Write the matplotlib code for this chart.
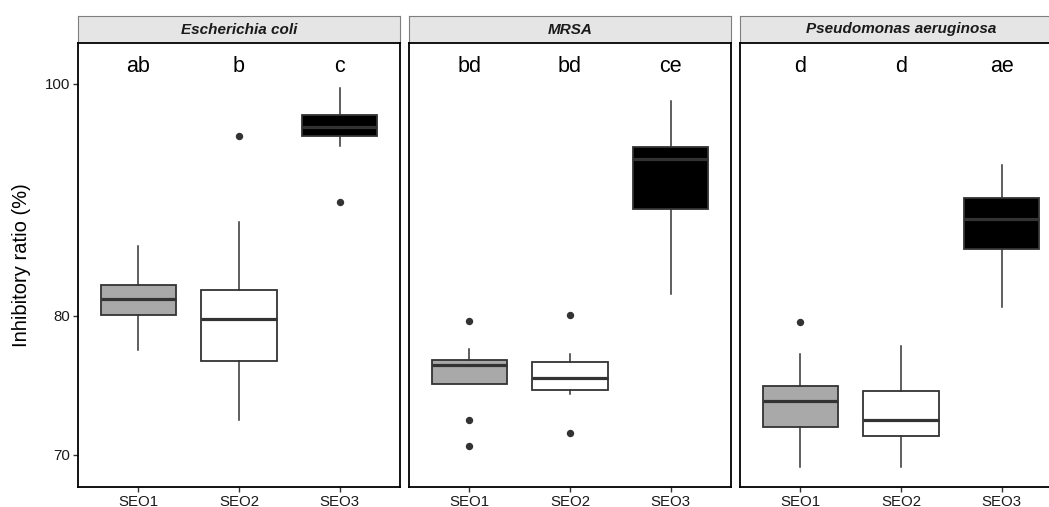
import numpy as np
import matplotlib.pyplot as plt

plt.rcParams['font.family'] = ['Liberation Sans', 'DejaVu Sans']

species = ['Escherichia coli', 'MRSA', 'Pseudomonas aeruginosa']
groups = ['SEO1', 'SEO2', 'SEO3']
letters = [['ab', 'b', 'c'], ['bd', 'bd', 'ce'], ['d', 'd', 'ae']]
fills = ['#A9A9A9', '#FFFFFF', '#000000']

# box statistics (one row per species, SEO1..SEO3)
whislo = [[77.4, 72.4, 94.2], [74.9, 74.2, 81.7], [69.2, 69.2, 80.7]]
q1 = [[80.1, 76.6, 95.15], [74.9, 74.5, 88.7], [71.9, 71.3, 85.3]]
med = [[81.3, 79.8, 95.95], [76.3, 75.4, 93.0], [73.7, 72.4, 87.85]]
q3 = [[82.4, 82.0, 97.0], [76.7, 76.5, 94.1], [74.8, 74.4, 89.6]]
whishi = [[85.6, 87.6, 99.6], [77.5, 77.1, 98.4], [77.1, 77.75, 92.5]]
outliers = [[[], [95.1], [89.3]],
            [[79.6, 72.4, 70.6], [80.1, 71.5], []],
            [[79.5], [], []]]

yticks = [70, 80, 100]
ylim = (67.87, 104.0)
letter_y = 101.1

W, H = 1049, 507
fig = plt.figure(figsize=(W / 100, H / 100), dpi=100)

panel_left = [78, 409, 740]
panel_w = 322
top, bottom = 43, 487
strip_top = 16

for i, sp in enumerate(species):
    # strip first so the panel border sits on top of it
    sax = fig.add_axes([panel_left[i] / W, (H - top) / H, panel_w / W, (top - strip_top) / H])
    sax.set_facecolor('#E5E5E5')
    sax.set_xticks([])
    sax.set_yticks([])
    for s in sax.spines.values():
        s.set_color('#7F7F7F')
        s.set_linewidth(0.8)
    sax.spines['bottom'].set_visible(False)
    sax.text(0.5, 0.5, sp, transform=sax.transAxes, ha='center', va='center',
             fontsize=11, fontweight='bold', fontstyle='italic', color='#1a1a1a')

    ax = fig.add_axes([panel_left[i] / W, (H - bottom) / H, panel_w / W, (bottom - top) / H])
    stats = []
    for j, g in enumerate(groups):
        stats.append({'label': g, 'whislo': whislo[i][j], 'q1': q1[i][j], 'med': med[i][j],
                      'q3': q3[i][j], 'whishi': whishi[i][j], 'fliers': outliers[i][j]})
    bp = ax.bxp(stats, positions=[1, 2, 3], widths=0.75, patch_artist=True, showcaps=False,
                boxprops=dict(edgecolor='#333333', linewidth=1.3),
                whiskerprops=dict(color='#333333', linewidth=1.1),
                medianprops=dict(color='#333333', linewidth=2.3, solid_capstyle='butt'),
                flierprops=dict(marker='o', markerfacecolor='#333333', markeredgecolor='#333333',
                                markersize=4.3, linestyle='none'))
    for patch, c in zip(bp['boxes'], fills):
        patch.set_facecolor(c)

    ax.set_yscale('log')
    ax.set_ylim(*ylim)
    ax.set_xlim(0.4, 3.6)
    ax.yaxis.set_minor_locator(plt.NullLocator())
    if i == 0:
        ax.set_yticks(yticks)
        ax.set_yticklabels([str(t) for t in yticks])
    else:
        ax.set_yticks([])
    ax.tick_params(axis='both', length=3.5, width=1.0, color='#333333', labelsize=10.8,
                   labelcolor='#1a1a1a', pad=2)
    ax.set_xticks([1, 2, 3])
    ax.set_xticklabels(groups)
    for s in ax.spines.values():
        s.set_color('black')
        s.set_linewidth(1.3)

    for j in range(3):
        ax.text(j + 1, letter_y, letters[i][j], ha='center', va='baseline',
                fontsize=15.5, color='black')

fig.text(22 / W, 1 - 265 / H, 'Inhibitory ratio (%)', rotation=90, ha='center', va='center',
         fontsize=14.5, color='black')

fig.savefig('out.png', dpi=100)
